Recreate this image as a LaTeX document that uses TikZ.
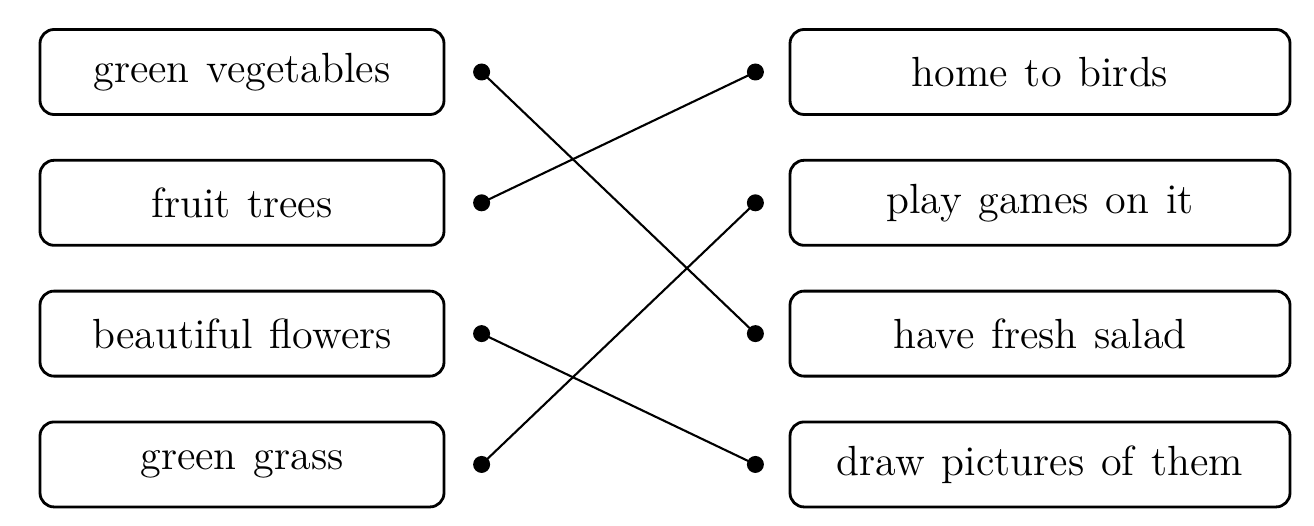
\documentclass[tikz,border=0pt]{standalone}
\usepackage{tikz}
\usetikzlibrary{positioning}
\newcommand{\boxfont}{\fontsize{12}{15}\selectfont\spaceskip=0.4em\relax}

\begin{document}
\begin{tikzpicture}[node distance=0.43cm]
	\tikzstyle{lbox}=[draw,rounded corners=4pt,thick,minimum width=4.04cm,minimum height=0.85cm,inner sep=2pt,align=center,font=\boxfont]
	\tikzstyle{rbox}=[lbox,minimum width=5.0cm]
	\tikzstyle{dot}=[circle,fill=black,inner sep=0pt,minimum size=0.17cm]
	\useasboundingbox (0,0) rectangle (13.14,-5.26);
	% left column
	\node[lbox] (l1) at (2.42,-0.72) {green vegetables};
	\node[lbox,below=of l1] (l2) {fruit trees};
	\node[lbox,below=of l2] (l3) {beautiful flowers};
	\node[lbox,below=of l3] (l4) {green grass};
	% right column
	\node[rbox] (r1) at (10.40,-0.72) {home to birds};
	\node[rbox,below=of r1] (r2) {play games on it};
	\node[rbox,below=of r2] (r3) {have fresh salad};
	\node[rbox,below=of r3] (r4) {draw pictures of them};
	% dots
	\node[dot,right=0.27cm of l1] (a1) {};
	\node[dot,right=0.27cm of l2] (a2) {};
	\node[dot,right=0.27cm of l3] (a3) {};
	\node[dot,right=0.27cm of l4] (a4) {};
	\node[dot,left=0.24cm of r1] (b1) {};
	\node[dot,left=0.24cm of r2] (b2) {};
	\node[dot,left=0.24cm of r3] (b3) {};
	\node[dot,left=0.24cm of r4] (b4) {};
	\draw[semithick] (a1.center)--(b3.center);
	\draw[semithick] (a2.center)--(b1.center);
	\draw[semithick] (a3.center)--(b4.center);
	\draw[semithick] (a4.center)--(b2.center);
\end{tikzpicture}
\end{document}
